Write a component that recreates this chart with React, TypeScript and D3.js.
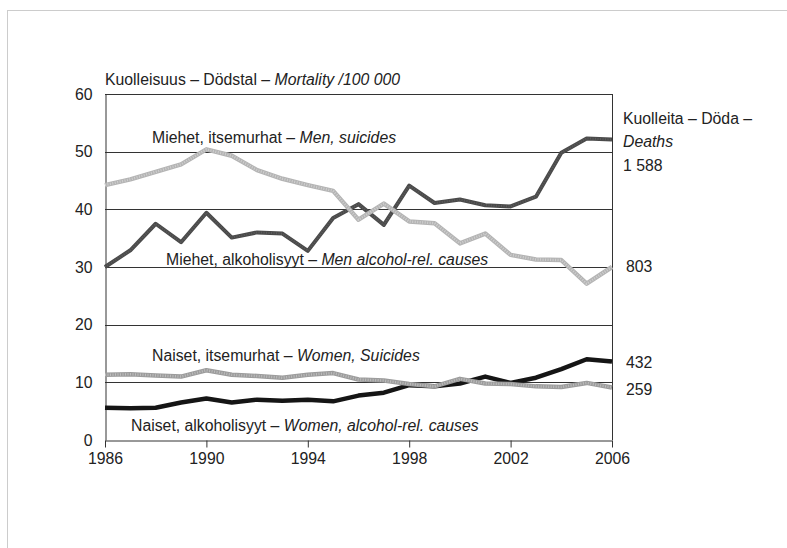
import React, { useEffect, useRef } from 'react';
import * as d3 from 'd3';

const years = d3.range(1986, 2007);
const menSuicides = [44.2, 45.2, 46.5, 47.8, 50.4, 49.3, 46.8, 45.3, 44.2, 43.2, 38.2, 41.0, 37.9, 37.6, 34.1, 35.8, 32.1, 31.3, 31.2, 27.1, 30.0];
const menAlcohol = [30.0, 32.9, 37.5, 34.3, 39.4, 35.1, 36.0, 35.8, 32.8, 38.5, 40.9, 37.3, 44.1, 41.1, 41.7, 40.7, 40.5, 42.2, 49.8, 52.3, 52.1];
const womenSuicides = [11.3, 11.4, 11.2, 11.0, 12.1, 11.3, 11.1, 10.8, 11.3, 11.6, 10.5, 10.3, 9.7, 9.3, 10.6, 9.8, 9.7, 9.3, 9.2, 9.9, 9.1];
const womenAlcohol = [5.6, 5.5, 5.6, 6.5, 7.2, 6.5, 7.0, 6.8, 7.0, 6.7, 7.7, 8.2, 9.5, 9.3, 9.8, 11.0, 9.9, 10.8, 12.3, 14.0, 13.6];
const yTicks = [0, 10, 20, 30, 40, 50, 60];
const xTicks = [1986, 1990, 1994, 1998, 2002, 2006];
const deaths = ['1 588', '803', '432', '259'];

const FONT = '"Liberation Sans", Arial, sans-serif';
const FS = 15.8;

const App: React.FC = () => {
  const svgRef = useRef<SVGSVGElement>(null);

  useEffect(() => {
    if (!svgRef.current) return;
    const svg = d3.select(svgRef.current);
    svg.selectAll('*').remove();

    const x = d3.scaleLinear().domain([1986, 2006]).range([105, 612]);
    const y = d3.scaleLinear().domain([0, 60]).range([440, 94]);

    // dotted page frame
    svg.append('rect')
      .attr('x', 7.5).attr('y', 10.5).attr('width', 900).attr('height', 700)
      .attr('fill', 'none').attr('stroke', '#999').attr('stroke-dasharray', '1,1');

    const g = svg.append('g').attr('font-family', FONT).attr('font-size', FS).attr('fill', '#222');

    // gridlines
    g.append('g')
      .selectAll('line')
      .data(yTicks.filter(t => t > 0))
      .join('line')
      .attr('x1', x(1986)).attr('x2', x(2006))
      .attr('y1', d => Math.round(y(d)) + 0.5).attr('y2', d => Math.round(y(d)) + 0.5)
      .attr('stroke', '#333').attr('stroke-width', 1);

    // right border
    g.append('line')
      .attr('x1', x(2006) + 0.5).attr('x2', x(2006) + 0.5).attr('y1', y(60)).attr('y2', y(0))
      .attr('stroke', '#333');

    // left axis
    const yAxis = g.append('g')
      .attr('transform', `translate(${x(1986) + 0.5},0)`)
      .call(d3.axisLeft(y).tickValues(yTicks).tickSize(0).tickPadding(13));
    yAxis.select('.domain').attr('stroke', '#333');
    yAxis.selectAll('text').attr('font-family', FONT).attr('font-size', FS).attr('fill', '#222');

    // bottom axis
    const xAxis = g.append('g')
      .attr('transform', `translate(0,${Math.round(y(0)) + 0.5})`)
      .call(d3.axisBottom(x).tickValues(xTicks).tickFormat(d3.format('d')).tickSizeInner(7).tickSizeOuter(0).tickPadding(5));
    xAxis.select('.domain').attr('stroke', '#333');
    xAxis.selectAll('line').attr('stroke', '#333');
    xAxis.selectAll('text').attr('font-family', FONT).attr('font-size', FS).attr('fill', '#222');

    const line = d3.line<number>()
      .x((_, i) => x(years[i]))
      .y(d => y(d));

    const drawSeries = (vals: number[], color: string, width: number, texture?: string) => {
      g.append('path')
        .attr('d', line(vals) || '')
        .attr('fill', 'none')
        .attr('stroke', color)
        .attr('stroke-width', width)
        .attr('stroke-linejoin', 'round');
      if (texture) {
        g.append('path')
          .attr('d', line(vals) || '')
          .attr('fill', 'none')
          .attr('stroke', texture)
          .attr('stroke-width', width - 2)
          .attr('stroke-dasharray', '1,1.5')
          .attr('stroke-linejoin', 'round');
      }
    };

    drawSeries(menAlcohol, '#4a4a4a', 4, '#5c5c5c');
    drawSeries(menSuicides, '#b4b4b4', 4.5, '#cfcfcf');
    drawSeries(womenAlcohol, '#151515', 4.5);
    drawSeries(womenSuicides, '#9c9c9c', 4.5, '#bdbdbd');

    // series labels
    const label = (lx: number, ly: number, plain: string, ital: string) => {
      const t = g.append('text').attr('x', lx).attr('y', ly);
      t.append('tspan').text(plain);
      t.append('tspan').attr('font-style', 'italic').text(ital);
    };
    label(152, 143, 'Miehet, itsemurhat – ', 'Men, suicides');
    label(166, 265, 'Miehet, alkoholisyyt – ', 'Men alcohol-rel. causes');
    label(152, 361, 'Naiset, itsemurhat – ', 'Women, Suicides');
    label(131, 431, 'Naiset, alkoholisyyt – ', 'Women, alcohol-rel. causes');

    // title
    label(105, 85, 'Kuolleisuus – Dödstal – ', 'Mortality /100 000');

    // right side deaths
    g.append('text').attr('x', 623).attr('y', 124).text('Kuolleita – Döda –');
    g.append('text').attr('x', 623).attr('y', 147).attr('font-style', 'italic').text('Deaths');
    const deathY = [171, 272, 368, 395];
    const deathX = [623, 626, 626, 626];
    deaths.forEach((d, i) => {
      g.append('text').attr('x', deathX[i]).attr('y', deathY[i]).text(d);
    });
  }, []);

  return (
    <div style={{ position: 'fixed', left: 0, top: 0, width: 787, height: 548, background: '#fff' }}>
      <svg ref={svgRef} width={787} height={548} style={{ display: 'block' }} />
    </div>
  );
};

export default App;
